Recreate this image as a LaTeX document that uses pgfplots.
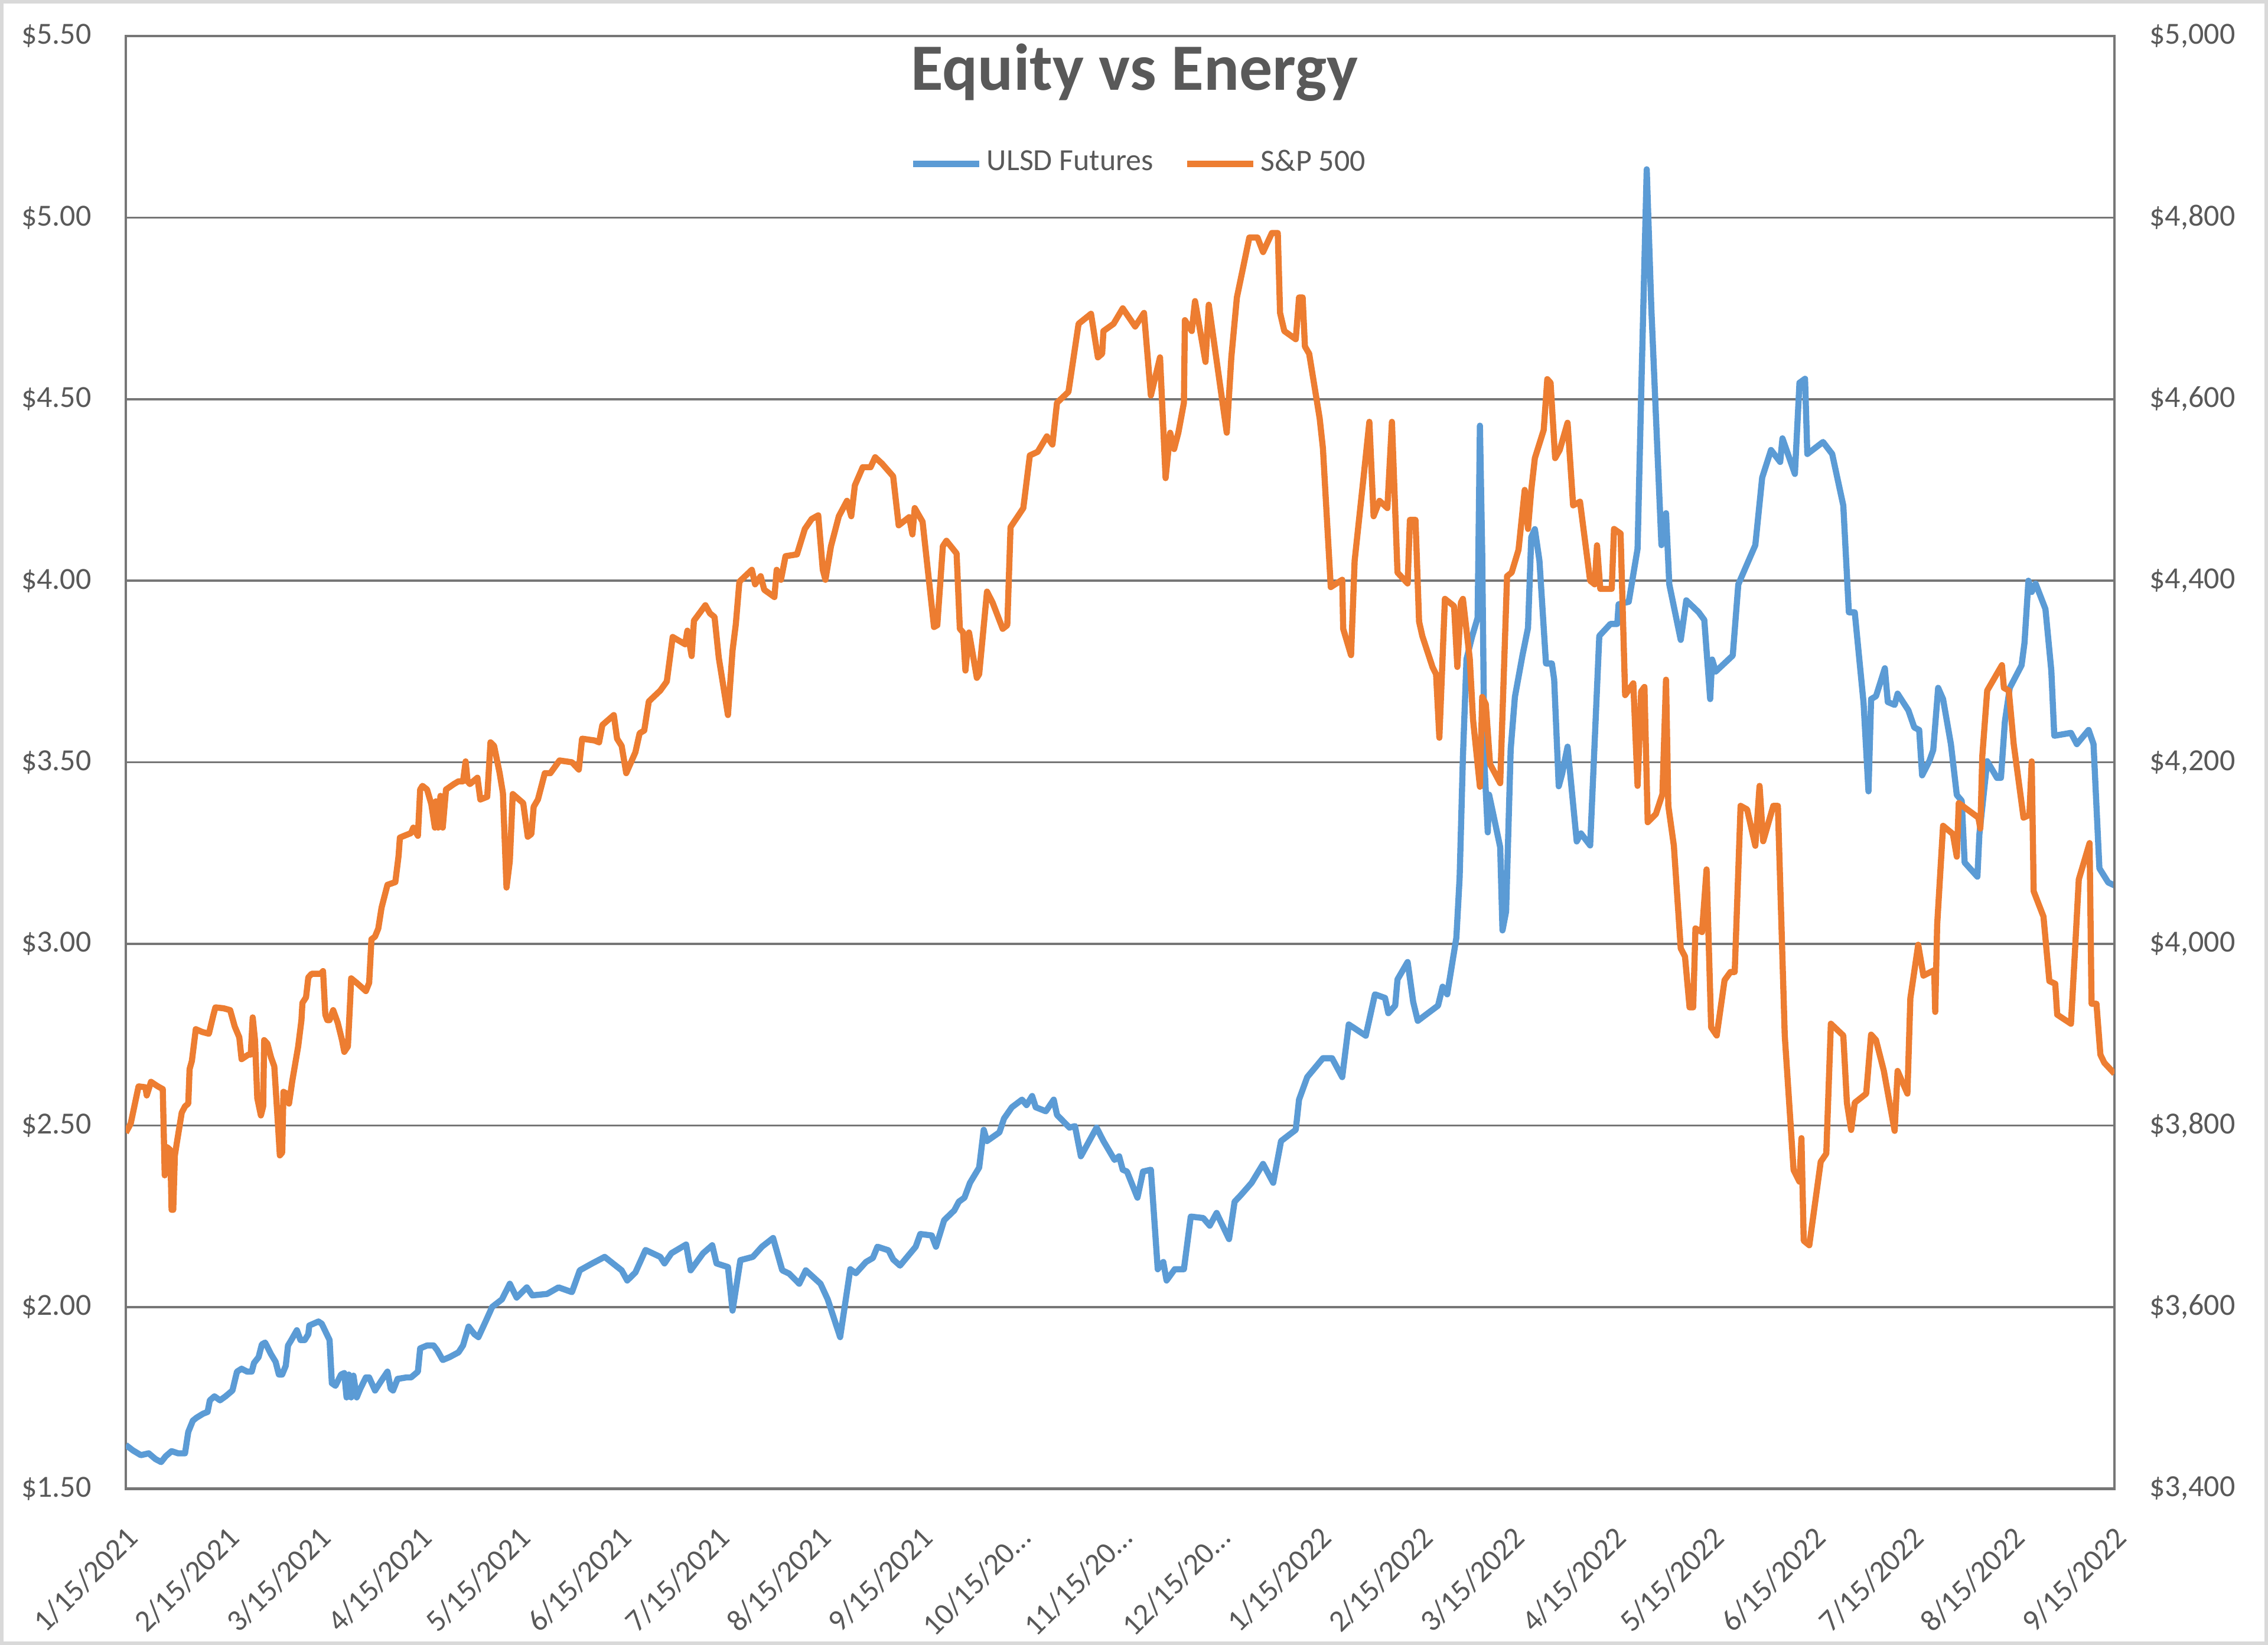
\documentclass[border=0pt]{standalone}
\usepackage{fontspec}
\setmainfont{Carlito}
\usepackage{pgfplots}
\pgfplotsset{compat=1.18}

\definecolor{ulsd}{HTML}{5B9BD5}
\definecolor{spx}{HTML}{ED7D31}
\definecolor{txtgray}{HTML}{595959}
\definecolor{gridgray}{HTML}{767676}
\definecolor{outer}{HTML}{D9D9D9}

% days counted from 1/15/2021
\pgfplotstableread{
day val
0 1.620
2.2 1.605
4.6 1.592
7.0 1.597
9.1 1.581
10.8 1.573
12.2 1.589
14.0 1.603
16.0 1.597
18.1 1.597
19.1 1.656
20.5 1.687
21.6 1.695
23.6 1.706
25.0 1.711
25.7 1.743
27.1 1.754
28.8 1.743
30.5 1.754
32.6 1.770
34.0 1.822
35.4 1.830
37.1 1.822
38.5 1.822
39.2 1.846
40.6 1.862
41.6 1.897
42.6 1.902
44.4 1.870
45.8 1.849
46.8 1.814
47.8 1.814
48.9 1.838
49.6 1.894
50.6 1.909
52.3 1.936
53.4 1.909
54.7 1.909
55.8 1.925
56.1 1.949
58.9 1.960
59.9 1.954
62.3 1.909
63.0 1.790
64.1 1.783
65.8 1.814
66.8 1.818
67.5 1.751
68.2 1.814
68.9 1.751
69.6 1.811
70.6 1.751
71.7 1.775
73.4 1.806
74.4 1.806
76.2 1.770
78.2 1.798
80.0 1.822
81.0 1.775
81.7 1.770
83.1 1.802
85.8 1.806
87.2 1.806
89.3 1.822
90.0 1.886
92.1 1.894
94.1 1.894
95.2 1.881
96.9 1.854
99.0 1.862
101.7 1.875
103.1 1.894
104.8 1.946
106.6 1.925
107.8 1.917
110.0 1.960
112.0 2.000
115.0 2.021
117.4 2.064
119.5 2.026
122.6 2.054
124.3 2.032
128.8 2.036
132.3 2.054
136.4 2.041
138.8 2.101
142.6 2.120
146.4 2.138
151.6 2.101
153.3 2.073
155.8 2.095
158.9 2.157
163.4 2.138
164.7 2.120
166.8 2.148
171.3 2.172
172.7 2.101
176.5 2.148
179.3 2.170
180.6 2.120
184.1 2.110
185.5 1.990
187.9 2.129
191.7 2.138
194.5 2.166
197.9 2.190
200.7 2.101
202.8 2.092
205.9 2.064
207.9 2.101
212.4 2.064
214.6 2.021
218.4 1.917
221.5 2.104
223.2 2.093
226.3 2.124
228.4 2.135
229.8 2.166
233.2 2.156
234.6 2.131
236.7 2.114
241.5 2.166
242.9 2.201
246.4 2.197
247.7 2.166
250.2 2.239
253.3 2.266
254.7 2.290
256.4 2.301
258.1 2.342
260.9 2.384
262.3 2.488
263.3 2.457
267.1 2.481
268.5 2.519
270.9 2.550
274.0 2.571
275.4 2.556
277.1 2.581
278.2 2.550
281.3 2.539
283.7 2.571
284.7 2.529
288.5 2.494
290.2 2.498
292.0 2.415
296.8 2.494
298.9 2.457
302.3 2.405
303.7 2.415
304.8 2.378
306.1 2.373
309.3 2.301
311.0 2.373
313.4 2.378
315.5 2.104
317.2 2.124
318.2 2.073
320.7 2.104
323.5 2.104
325.6 2.249
329.4 2.245
331.4 2.224
333.5 2.259
337.3 2.187
339.0 2.290
340.8 2.307
344.2 2.342
347.7 2.394
350.8 2.342
353.2 2.457
357.7 2.488
358.7 2.571
361.2 2.633
366.0 2.685
368.8 2.685
371.9 2.633
373.9 2.778
379.1 2.747
381.9 2.861
385.0 2.851
386.0 2.809
388.1 2.830
388.8 2.902
391.9 2.950
393.6 2.840
395.0 2.788
401.2 2.830
402.6 2.882
404.0 2.861
406.8 3.017
407.8 3.183
408.8 3.514
409.9 3.784
411.6 3.846
413.3 3.898
414.0 4.427
414.7 4.075
415.4 3.494
416.4 3.307
416.8 3.411
417.8 3.369
420.2 3.266
420.9 3.037
422.0 3.089
423.4 3.535
424.7 3.680
427.0 3.794
428.7 3.870
429.7 4.120
430.8 4.142
432.2 4.055
434.2 3.772
436.0 3.772
436.7 3.728
438.1 3.434
439.1 3.467
440.8 3.543
443.6 3.282
444.9 3.304
447.7 3.271
450.5 3.848
453.9 3.881
456.0 3.881
456.4 3.935
459.5 3.942
462.2 4.088
463.3 4.512
465.0 5.133
466.4 4.752
469.5 4.098
470.9 4.186
471.9 3.990
475.4 3.837
477.1 3.946
480.9 3.913
482.6 3.892
484.4 3.674
485.0 3.783
486.1 3.750
491.3 3.794
493.0 3.990
498.2 4.098
500.3 4.284
503.0 4.360
505.8 4.327
506.5 4.392
510.3 4.294
511.7 4.545
513.4 4.556
514.1 4.349
518.9 4.382
521.7 4.349
525.1 4.207
526.8 3.913
528.6 3.913
531.3 3.663
532.8 3.420
533.6 3.674
535.1 3.682
537.8 3.759
538.7 3.666
540.8 3.658
541.7 3.689
545.0 3.643
546.8 3.596
548.3 3.589
549.2 3.464
551.4 3.503
552.6 3.534
554.1 3.705
555.6 3.674
558.0 3.550
559.8 3.410
561.3 3.394
562.2 3.224
566.1 3.185
566.7 3.301
569.1 3.503
572.1 3.457
573.3 3.457
574.5 3.612
576.0 3.705
579.6 3.767
580.5 3.829
581.7 4.000
582.7 3.969
583.9 3.992
586.9 3.922
588.7 3.752
589.6 3.573
594.7 3.581
596.5 3.550
600.1 3.589
601.6 3.550
603.4 3.208
606.1 3.169
608.0 3.161
}\ulsdtable

\pgfplotstableread{
day val
0 3792
1.5 3802
3.9 3843
6.0 3842
6.4 3833
7.7 3848
9.8 3843
11.3 3840
11.9 3745
12.6 3776
13.6 3773
14.0 3707
14.5 3707
15.0 3767
15.7 3783
17.1 3814
18.1 3821
19.1 3824
19.5 3862
20.2 3871
21.4 3906
23.3 3903
25.4 3901
26.8 3922
27.4 3930
29.9 3929
31.9 3927
33.3 3909
34.7 3897
35.4 3873
37.5 3878
38.2 3878
38.8 3919
39.5 3894
40.2 3830
41.3 3811
42.0 3821
42.3 3894
43.3 3890
44.4 3875
45.4 3865
46.4 3808
47.1 3767
47.8 3770
48.2 3837
49.2 3835
49.9 3824
50.9 3849
52.7 3887
53.7 3916
54.0 3935
55.1 3941
55.8 3963
56.8 3967
59.6 3967
60.3 3970
61.0 3922
61.6 3916
62.3 3916
63.4 3927
64.8 3913
66.1 3894
66.8 3881
67.9 3887
68.6 3938
68.9 3962
70.6 3957
73.4 3948
74.4 3957
75.1 4005
76.2 4008
77.2 4017
78.2 4040
80.0 4065
82.4 4068
83.4 4097
83.8 4117
85.1 4119
87.2 4122
87.9 4128
89.3 4119
90.0 4170
90.7 4174
92.1 4170
93.4 4154
94.5 4128
94.8 4157
95.5 4128
96.2 4163
96.9 4128
97.9 4170
100.3 4176
101.7 4179
103.1 4179
103.9 4201
104.5 4179
105.2 4176
107.5 4183
108.4 4159
110.5 4162
111.5 4222
112.6 4218
114.3 4188
115.3 4166
116.4 4062
117.4 4091
118.3 4165
121.5 4155
122.9 4118
124.0 4121
124.7 4151
126.0 4159
128.1 4188
129.8 4188
132.6 4202
136.4 4200
138.5 4192
139.5 4226
143.3 4224
144.7 4222
145.7 4241
149.2 4252
150.2 4226
151.6 4218
153.0 4188
155.8 4211
157.1 4232
158.5 4235
159.9 4267
163.4 4279
165.4 4289
167.2 4338
171.0 4330
171.7 4345
173.0 4317
173.7 4356
177.2 4373
178.6 4364
180.0 4360
181.3 4315
184.1 4252
185.5 4323
186.5 4352
187.6 4399
191.4 4412
192.4 4396
194.1 4405
195.2 4390
198.3 4382
199.0 4412
200.3 4401
201.7 4427
205.2 4429
207.6 4457
209.7 4468
211.7 4472
213.1 4412
213.9 4401
215.6 4438
218.0 4471
220.5 4488
221.8 4471
222.9 4505
225.3 4525
227.7 4525
229.1 4536
231.2 4529
234.6 4515
236.3 4461
239.5 4470
240.5 4451
241.2 4480
243.6 4465
247.1 4349
248.1 4351
249.8 4438
250.9 4444
254.0 4430
255.0 4347
256.0 4343
256.7 4301
257.8 4343
260.2 4293
260.9 4297
263.3 4388
265.0 4376
268.1 4347
269.5 4351
270.5 4459
274.4 4480
276.4 4538
278.8 4542
281.6 4559
283.3 4550
284.7 4596
288.2 4608
291.3 4683
295.1 4694
297.2 4646
298.5 4650
298.9 4675
302.0 4683
304.8 4700
308.6 4680
311.3 4695
313.4 4604
316.2 4646
317.9 4513
319.3 4563
320.5 4545
321.8 4563
323.5 4596
323.8 4687
325.9 4675
326.9 4708
330.1 4641
331.1 4704
336.6 4563
338.0 4646
339.7 4712
343.5 4778
346.0 4778
347.7 4762
350.4 4783
352.2 4783
352.9 4695
354.2 4675
357.7 4666
358.7 4712
359.8 4712
360.5 4658
361.8 4650
365.0 4579
366.0 4546
368.4 4393
371.9 4401
372.2 4347
374.6 4318
375.7 4422
378.4 4513
380.2 4575
381.5 4471
383.3 4488
385.7 4480
387.1 4575
388.8 4409
391.9 4397
392.6 4467
394.3 4467
395.4 4355
396.4 4339
399.5 4305
400.6 4297
401.6 4227
403.3 4380
406.1 4372
407.1 4305
408.2 4376
408.8 4380
410.9 4314
411.9 4247
414.0 4173
414.7 4272
415.8 4264
417.1 4198
420.2 4177
422.3 4405
423.7 4409
425.8 4434
427.7 4500
428.7 4457
429.7 4500
430.8 4535
433.5 4566
434.6 4622
435.6 4618
437.0 4535
438.4 4544
440.8 4574
442.5 4483
444.6 4487
447.7 4400
449.1 4396
449.8 4439
450.8 4391
454.3 4391
455.0 4457
457.0 4452
458.4 4274
460.9 4287
462.2 4174
463.3 4278
464.3 4283
465.3 4134
467.8 4143
469.8 4165
470.9 4291
471.6 4152
473.3 4108
475.4 3995
476.7 3986
478.1 3930
479.2 3930
479.9 4017
481.9 4013
483.3 4082
484.7 3908
486.4 3899
488.8 3960
490.6 3969
491.9 3969
493.7 4152
495.7 4148
498.2 4108
499.5 4174
500.6 4113
503.7 4152
505.1 4152
507.2 3899
509.9 3751
511.7 3738
512.3 3786
513.0 3673
514.7 3668
518.2 3760
519.9 3769
521.3 3912
525.1 3899
526.2 3825
527.5 3795
528.6 3825
532.1 3835
533.6 3900
535.1 3894
537.5 3860
540.8 3794
541.7 3860
544.7 3835
545.6 3940
548.0 3999
549.6 3965
552.9 3971
553.2 3925
553.8 4021
555.6 4130
558.6 4121
559.8 4096
560.4 4155
566.4 4139
567.0 4127
567.6 4207
569.1 4279
573.6 4307
574.2 4282
575.7 4279
577.2 4220
580.2 4139
582.0 4142
582.7 4201
583.3 4058
586.3 4030
588.1 3959
589.9 3956
590.5 3922
594.7 3912
595.9 3990
597.1 4071
600.4 4111
601.0 3934
602.5 3934
603.7 3878
604.9 3869
608.0 3857
}\spxtable

\pgfplotsset{
  chartbase/.style={
    at={(26.625pt,33.1pt)}, anchor=south west,
    scale only axis, width=420.875pt, height=307.4pt,
    xmin=0, xmax=608,
    major tick length=0pt,
    tick label style={font=\fontsize{6.5}{7.5}\selectfont, color=txtgray},
    axis line style={gridgray, line width=0.6pt},
  },
  serie/.style={line width=1.3pt, line join=round, no marks},
}

\begin{document}
\begin{tikzpicture}[x=1pt,y=1pt]
\draw[outer, line width=0.8pt] (0.4,0.4) rectangle (479.6,347.725);

\begin{axis}[chartbase,
  ymin=1.5, ymax=5.5,
  ytick={1.5,2,2.5,3,3.5,4,4.5,5,5.5},
  yticklabels={\$1.50,\$2.00,\$2.50,\$3.00,\$3.50,\$4.00,\$4.50,\$5.00,\$5.50},
  yticklabel style={inner sep=0pt, xshift=-7.1pt},
  ymajorgrids, major grid style={gridgray, line width=0.45pt},
  xtick={0,31,59,90,120,151,181,212,243,273,304,334,365,396,424,455,485,516,546,577,608},
  xticklabels={1/15/2021,2/15/2021,3/15/2021,4/15/2021,5/15/2021,6/15/2021,7/15/2021,8/15/2021,9/15/2021,10/15/20…,11/15/20…,12/15/20…,1/15/2022,2/15/2022,3/15/2022,4/15/2022,5/15/2022,6/15/2022,7/15/2022,8/15/2022,9/15/2022},
  xticklabel style={inner sep=0pt, xshift=-0.3pt, yshift=-7.4pt, rotate=45, anchor=north east},
  legend columns=2,
  legend cell align=left,
  legend image code/.code={\draw[#1] (0pt,0pt) -- (14pt,0pt);},
  legend style={at={(0.510,0.912)}, anchor=center, draw=none, fill=none,
    font=\fontsize{6.5}{7.5}\selectfont, text=txtgray,
    nodes={inner sep=0.9pt},
    /tikz/every even column/.append style={column sep=5.6pt}},
]
\addplot[serie, ulsd] table[x=day, y=val] {\ulsdtable};
\addlegendentry{ULSD Futures}
\addlegendimage{serie, spx}
\addlegendentry{S\&P 500}
\end{axis}

\begin{axis}[chartbase,
  axis x line=none, axis y line*=right,
  ymin=3400, ymax=5000,
  ytick={3400,3600,3800,4000,4200,4400,4600,4800,5000},
  yticklabels={{\$3,400},{\$3,600},{\$3,800},{\$4,000},{\$4,200},{\$4,400},{\$4,600},{\$4,800},{\$5,000}},
  yticklabel style={inner sep=0pt, xshift=7.25pt},
]
\addplot[serie, spx] table[x=day, y=val] {\spxtable};
\end{axis}

\node[anchor=base, text=txtgray, font=\fontsize{14}{16}\selectfont\bfseries] at (240.1,329) {Equity vs Energy};
\end{tikzpicture}
\end{document}
